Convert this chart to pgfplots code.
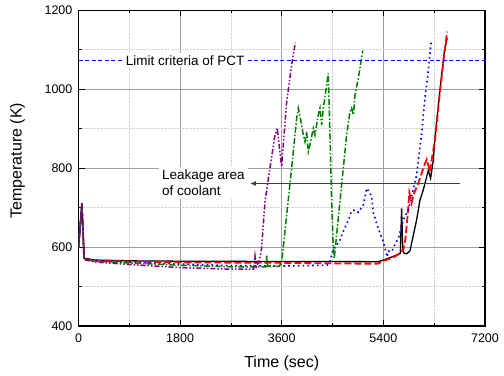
\documentclass[border=0pt]{standalone}
\usepackage{pgfplots}
\pgfplotsset{compat=1.18}
\usepackage{fontspec}
\setmainfont{Liberation Sans}
\usetikzlibrary{arrows.meta}
\definecolor{cgreen}{RGB}{0,128,0}
\definecolor{cpurple}{RGB}{128,0,128}
\begin{document}
\begin{tikzpicture}
\useasboundingbox (-78.5bp,-50bp) rectangle (425.5bp,326bp);
\begin{axis}[
  scale only axis, width=406.5bp, height=315.7bp,
  xmin=0, xmax=7200, ymin=400, ymax=1200,
  xtick={0,1800,3600,5400,7200}, ytick={400,600,800,1000,1200},
  minor x tick num=1, minor y tick num=1,
  grid=both,
  major grid style={gray!75, line width=0.8bp},
  minor grid style={densely dotted, gray!35, line width=0.6bp},
  axis line style={line width=1.2bp, black},
  tick style={black, line width=0.8bp},
  major tick length=6bp, minor tick length=3bp,
  tick align=inside,
  /pgf/number format/assume math mode=true,
  /pgf/number format/1000 sep={},
  tick label style={font=\fontsize{12.5bp}{15bp}\selectfont},
  xticklabel style={yshift=-4.5bp},
  yticklabel style={xshift=-2.6bp},
  label style={font=\fontsize{16bp}{19bp}\selectfont},
  xlabel={Time (sec)},
  ylabel={Temperature (K)},
  xlabel style={at={(axis description cs:0.5,-0.1311)}, anchor=base},
  ylabel style={at={(axis description cs:-0.1397,0.524)}, anchor=base},
]
% black solid
\addplot[black, line width=1.3bp] coordinates {
(0,598) (60,712) (100,572) (300,567) (1000,565) (2000,564) (5300,563) (5400,567) (5550,575) (5700,584)
(5723,698) (5745,590) (5770,584) (5812,583) (5871,590) (5930,630) (5989,669) (6048,719) (6107,745)
(6167,778) (6196,795) (6237,774) (6284,821) (6314,876) (6402,998) (6480,1095) (6530,1130)};
% red dashed
\addplot[red, line width=1.8bp, dash pattern=on 7bp off 3bp] coordinates {
(0,598) (60,710) (100,570) (300,566) (1000,563) (2000,561) (3600,560) (5000,558) (5300,558) (5400,565)
(5550,572) (5650,580) (5753,593) (5790,620) (5830,680) (5860,738) (5900,712) (5940,735) (6019,762)
(6078,787) (6137,812) (6167,822) (6200,805) (6226,791) (6260,825) (6284,846) (6314,871) (6400,990)
(6480,1090) (6530,1146)};
% blue dotted
\addplot[blue, line width=1.6bp, dash pattern=on 1.6bp off 3.2bp] coordinates {
(0,598) (60,708) (100,570) (300,565) (1000,561) (1800,557) (2700,553) (3600,552) (4400,554) (4454,563)
(4513,597) (4572,605) (4631,618) (4690,640) (4779,668) (4838,692) (4897,694) (4960,688) (5044,707)
(5104,749) (5150,740) (5192,728) (5221,688) (5281,660) (5340,635) (5399,614) (5465,575) (5490,590)
(5546,588) (5600,605) (5671,625) (5753,669) (5841,694) (5900,728) (5989,783) (6079,890) (6138,980)
(6197,1049) (6226,1091) (6245,1118)};
% green dash-dot
\addplot[cgreen, line width=1.5bp, dash pattern=on 6bp off 2bp on 1.5bp off 2bp] coordinates {
(0,598) (60,708) (100,569) (300,564) (1000,559) (1800,554) (2700,550) (3320,550) (3335,578) (3350,552)
(3550,551) (3598,560) (3687,681) (3775,800) (3864,926) (3893,952) (3953,909) (3982,884) (4011,867)
(4041,892) (4070,842) (4100,859) (4159,901) (4188,884) (4247,935) (4277,952) (4307,909) (4336,952)
(4395,1011) (4424,1040) (4454,884) (4484,715) (4513,597) (4530,572) (4572,630) (4631,715) (4690,800)
(4749,884) (4808,943) (4838,952) (4870,935) (4897,985) (4956,1028) (5035,1098)};
% purple dash-dot-dot
\addplot[cpurple, line width=1.5bp, dash pattern=on 5bp off 2bp on 1.5bp off 2bp on 1.5bp off 2bp] coordinates {
(0,598) (60,706) (100,568) (300,562) (1000,555) (1800,548) (2700,544) (3100,544) (3126,578) (3150,550)
(3200,565) (3240,592) (3303,715) (3391,800) (3480,884) (3521,901) (3560,850) (3598,804) (3687,968)
(3775,1061) (3840,1118)};
% limit line
\addplot[blue, line width=0.9bp, dash pattern=on 4bp off 2.5bp] coordinates {(0,1073) (7200,1073)};
\node[fill=white, inner sep=2bp, font=\fontsize{13.5bp}{16bp}\selectfont] at (axis cs:1890,1073) {Limit criteria of PCT};
% leakage arrow
\draw[black!75, line width=1.2bp, -{Latex[length=6bp,width=5bp]}] (axis cs:6755,761) -- (axis cs:3035,761);
\node[fill=white, inner sep=3bp, anchor=west, align=left, font=\fontsize{13.5bp}{16bp}\selectfont] at (axis cs:1426,762) {Leakage area\\of coolant};
\end{axis}
\end{tikzpicture}
\end{document}
